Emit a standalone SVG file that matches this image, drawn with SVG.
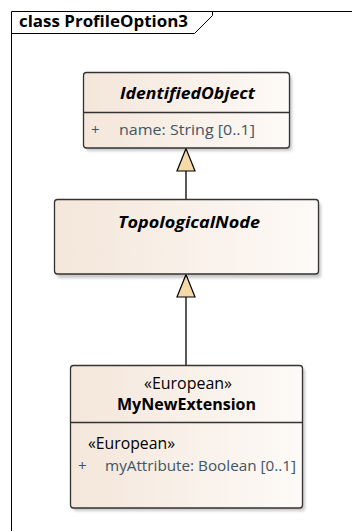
<svg xmlns="http://www.w3.org/2000/svg" width="352" height="531" viewBox="0 0 352 531">
<defs>
<linearGradient id="g" x1="0" y1="0" x2="1" y2="0">
<stop offset="0" stop-color="#f4e6da"/>
<stop offset="1" stop-color="#fdfaf7"/>
</linearGradient>
<filter id="sh" x="-10%" y="-10%" width="130%" height="130%">
<feGaussianBlur stdDeviation="1.5"/>
</filter>
<style>
.box{fill:url(#g);stroke:#333;stroke-width:1.3}
.shadow{fill:#000;opacity:0.22;filter:url(#sh)}
.div{stroke:#333;stroke-width:1.3}
.t{font-family:"Open Sans","Noto Sans",sans-serif;font-size:15.5px;fill:#000}
.bi{font-weight:bold;font-style:italic}
.b{font-weight:bold}
.attr{font-family:"Open Sans","Noto Sans",sans-serif;font-size:15px;fill:#3d5566}
.edge{stroke:#000;stroke-width:1.3;fill:none}
.head{fill:#f5d9a8;stroke:#000;stroke-width:1.2}
</style>
</defs>
<rect width="352" height="531" fill="#fff"/>
<g id="frame">
<path d="M11.5 531 V11.5 H352" fill="none" stroke="#000" stroke-width="1"/>
<path d="M11.5 33.5 H194.5 L212.5 15.5 V11.5" fill="none" stroke="#000" stroke-width="1"/>
<text x="19" y="27" class="t b" textLength="169" lengthAdjust="spacingAndGlyphs">class ProfileOption3</text>
</g>
<g id="connectors">
<line x1="186" y1="171" x2="186" y2="199" class="edge"/>
<polygon points="186,148.5 177,171 195,171" class="head"/>
<line x1="186" y1="297" x2="186" y2="365" class="edge"/>
<polygon points="186,274.5 177,297 195,297" class="head"/>
</g>
<g id="IdentifiedObject">
<rect x="86" y="76" width="206" height="75" rx="3" class="shadow"/>
<rect x="83.5" y="72.5" width="206" height="75.5" rx="3" class="box"/>
<line x1="83.5" y1="112.5" x2="289.5" y2="112.5" class="div"/>
<text x="120" y="99" class="t bi" textLength="135" lengthAdjust="spacingAndGlyphs">IdentifiedObject</text>
<text x="91" y="135" class="attr">+</text>
<text x="119" y="135" class="attr" textLength="136" lengthAdjust="spacingAndGlyphs">name: String [0..1]</text>
</g>
<g id="TopologicalNode">
<rect x="57" y="203" width="264" height="75" rx="3" class="shadow"/>
<rect x="54.5" y="199.5" width="264" height="74.5" rx="3" class="box"/>
<text x="118" y="228" class="t bi" textLength="142" lengthAdjust="spacingAndGlyphs">TopologicalNode</text>
</g>
<g id="MyNewExtension">
<rect x="73" y="368" width="232" height="143" rx="3" class="shadow"/>
<rect x="70.5" y="365.5" width="232" height="142.5" rx="3" class="box"/>
<line x1="70.5" y1="422.5" x2="302.5" y2="422.5" class="div"/>
<text x="144" y="389" class="t" textLength="88" lengthAdjust="spacingAndGlyphs">«European»</text>
<text x="117" y="410" class="t b" textLength="139" lengthAdjust="spacingAndGlyphs">MyNewExtension</text>
<text x="88" y="449" class="t" textLength="87" lengthAdjust="spacingAndGlyphs">«European»</text>
<text x="78" y="471" class="attr">+</text>
<text x="105" y="471" class="attr" textLength="191" lengthAdjust="spacingAndGlyphs">myAttribute: Boolean [0..1]</text>
</g>
</svg>
